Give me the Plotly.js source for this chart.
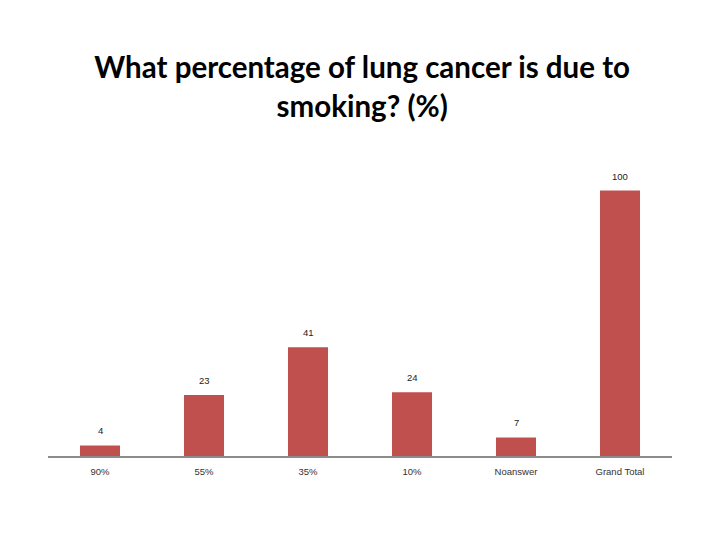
<!DOCTYPE html>
<html>
<head>
<meta charset="utf-8">
<script src="https://cdn.plot.ly/plotly-3.0.1.min.js"></script>
<style>html,body{margin:0;padding:0;background:#fff;}#chart{width:720px;height:540px;}</style>
</head>
<body>
<div id="chart"></div>
<script>
const categories = ["90%", "55%", "35%", "10%", "Noanswer", "Grand Total"];
const values = [4, 23, 41, 24, 7, 100];
const barColor = "#C0504D";

const trace = {
  type: "bar",
  x: categories,
  y: values,
  marker: {color: barColor},
  width: 0.385,
  hoverinfo: "none"
};

const annotations = categories.map((c, i) => ({
  x: c, y: values[i], xref: "x", yref: "y",
  text: String(values[i]), showarrow: false,
  yanchor: "bottom", yshift: 7,
  font: {family: "Liberation Sans, Arial", size: 9.5, color: "#222"}
}));

const layout = {
  width: 720, height: 540,
  margin: {l: 48, r: 48, t: 164, b: 84},
  paper_bgcolor: "#fff", plot_bgcolor: "#fff",
  title: {
    text: "What percentage of lung cancer is due to<br>smoking? (%)",
    font: {family: "Lato, Noto Sans, sans-serif", size: 29.5, color: "#000", weight: "bold"},
    x: 0.503, xanchor: "center", y: 0.855, yanchor: "middle"
  },
  xaxis: {
    type: "category",
    showline: true, linecolor: "#8c8c8c", linewidth: 2,
    ticks: "", showgrid: false, zeroline: false,
    tickfont: {family: "Liberation Sans, Arial", size: 9.5, color: "#333"},
    ticklabelstandoff: 6
  },
  yaxis: {
    range: [0, 110], visible: false, showgrid: false, zeroline: false, fixedrange: true
  },
  annotations: annotations,
  showlegend: false
};

Plotly.newPlot("chart", [trace], layout, {displayModeBar: false, staticPlot: true});
</script>
</body>
</html>
